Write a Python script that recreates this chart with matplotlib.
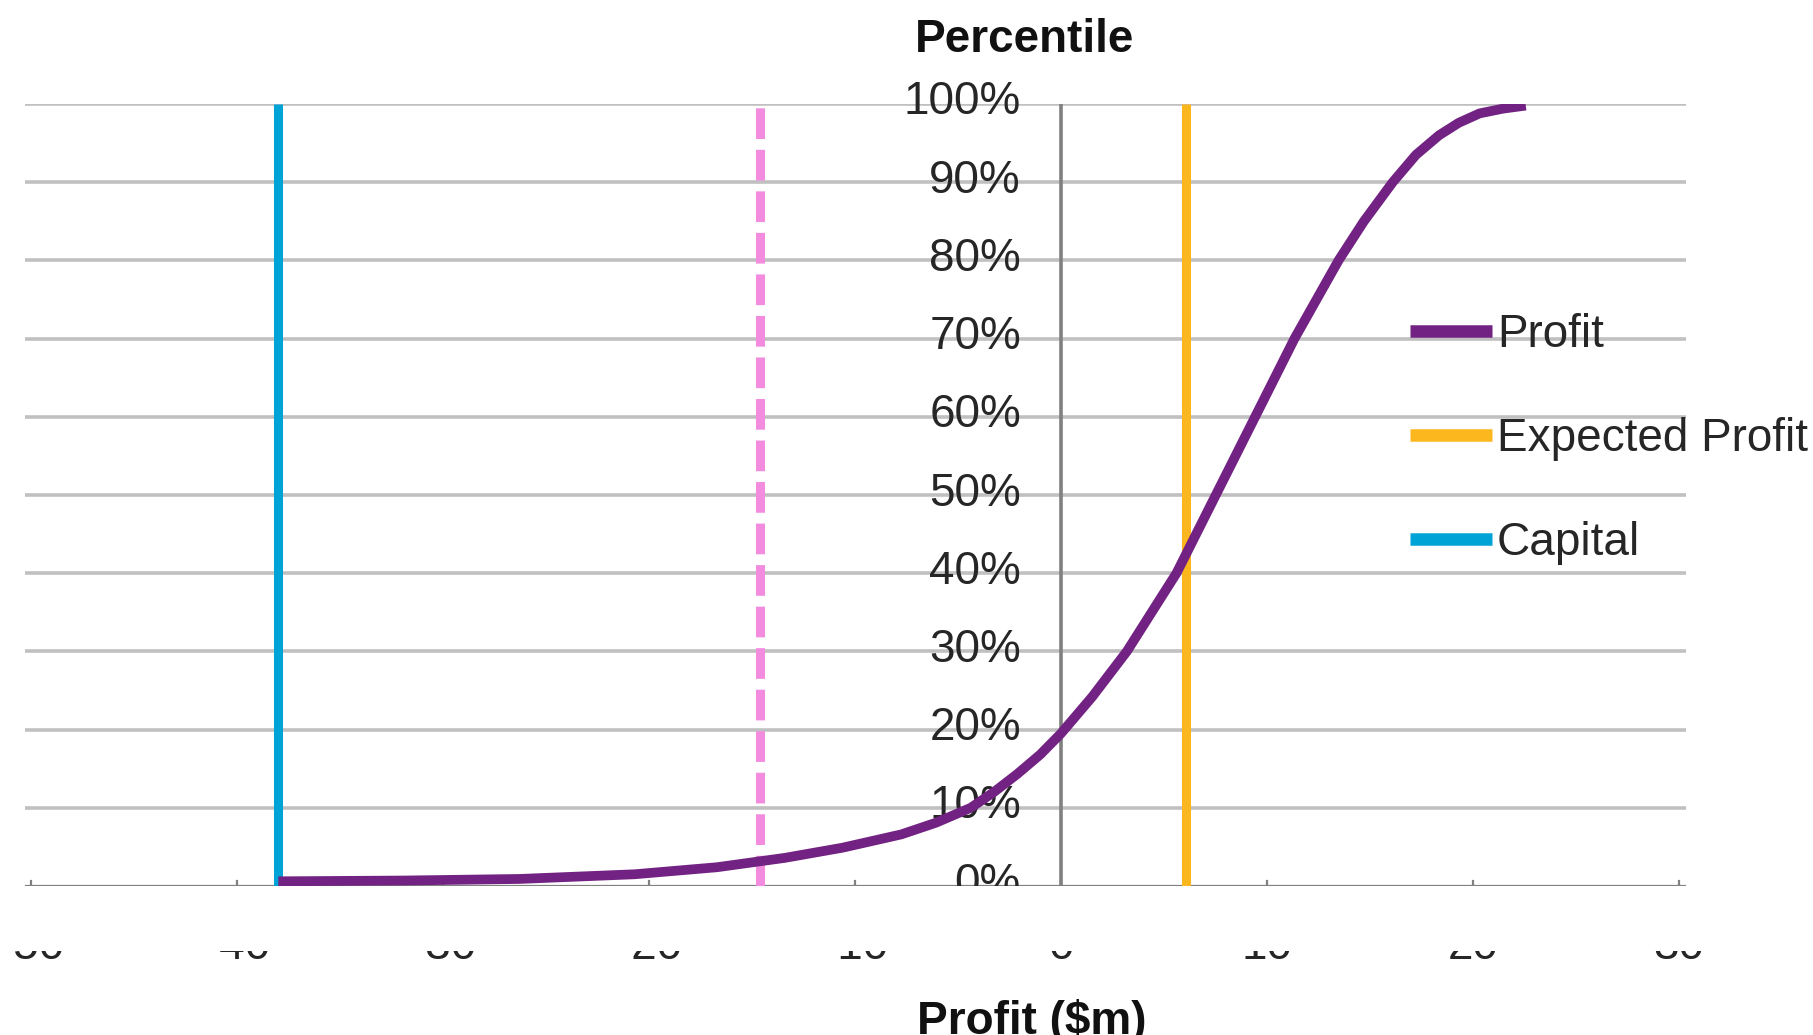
import matplotlib
matplotlib.use("Agg")
import matplotlib.pyplot as plt
from matplotlib.lines import Line2D
from matplotlib.patches import Rectangle
from matplotlib.transforms import Bbox, ScaledTranslation, blended_transform_factory

plt.rcParams["font.family"] = ["Liberation Sans", "DejaVu Sans"]

# cumulative profit distribution ($m vs percentile)
profit = [-38.0, -31.9, -26.3, -20.7, -16.7, -13.4, -10.6, -7.75, -6.06, -4.38,
          -3.26, -2.13, -1.01, 0.0, 1.52, 3.20, 5.61, 7.52, 9.43, 11.34,
          13.48, 14.71, 16.11, 17.24, 18.36, 19.32, 20.33, 21.45, 22.57]
percentile = [0.006, 0.007, 0.009, 0.015, 0.024, 0.036, 0.049, 0.066, 0.081, 0.100,
              0.120, 0.143, 0.168, 0.195, 0.242, 0.300, 0.400, 0.500, 0.600, 0.700,
              0.800, 0.850, 0.900, 0.935, 0.960, 0.976, 0.988, 0.994, 0.998]

expected_profit = 6.06
capital = -38.0
threshold = -14.6

x_ticks = [-50, -40, -30, -20, -10, 0, 10, 20, 30]
y_ticks = [0.0, 0.1, 0.2, 0.3, 0.4, 0.5, 0.6, 0.7, 0.8, 0.9, 1.0]
y_labels = ["0%", "10%", "20%", "30%", "40%", "50%", "60%", "70%", "80%", "90%", "100%"]

c_profit = "#722282"
c_expected = "#FDB71E"
c_capital = "#00A3D6"
c_threshold = "#F38BDF"
txt = "#262626"
fs = 33

W, H = 1813, 1035
fig = plt.figure(figsize=(W / 100, H / 100), dpi=100)
ax = fig.add_axes([25 / W, 1 - 886 / H, (1686 - 25) / W, (886 - 104) / H])
ax.set_xlim(-50.3, 30.35)
ax.set_ylim(0, 1)
for s in ax.spines.values():
    s.set_visible(False)

ax.set_yticks(y_ticks[1:])
ax.yaxis.grid(True, color="#C0C0C0", linewidth=2.6)
ax.set_axisbelow(True)
ax.set_xticks(x_ticks)
ax.tick_params(axis="both", length=0, labelleft=False, labelbottom=False)

# axis lines
ax.axhline(0, color="#808080", linewidth=1.6, zorder=2)
ax.plot([0, 0], [0, 1], color="#808080", linewidth=2.6, zorder=2)
for xt in x_ticks:
    ax.plot([xt, xt], [0, 0.006], color="#808080", linewidth=1.6, zorder=2)

# y tick labels sit left of the x=0 axis, cut off below the x axis
clip_above_axis = Bbox([[0, H - 886], [W, H]])
off = ScaledTranslation(-40 / 100, -10.5 / 100, fig.dpi_scale_trans)
for v, lab in zip(y_ticks, y_labels):
    t = ax.text(0, v, lab, transform=ax.transData + off, ha="right", va="baseline",
                fontsize=fs, color=txt, zorder=3)
    t.set_clip_path(None)
    t.set_clip_box(clip_above_axis)
    t.set_clip_on(True)

# x tick labels; a white band hides all but their lower edge
tr = blended_transform_factory(ax.transData, fig.transFigure)
for xt in x_ticks:
    ax.text(xt, 1 - 959 / H, str(xt), transform=tr, ha="center", va="baseline",
            fontsize=fs, color=txt)
fig.add_artist(Rectangle((0, 1 - 951 / H), 1, (951 - 890) / H, transform=fig.transFigure,
                         facecolor="white", edgecolor="none", zorder=5))

ax.plot([capital, capital], [0, 1], color=c_capital, linewidth=6.5,
        solid_capstyle="butt", zorder=4)
ax.plot([threshold, threshold], [0, 1], color=c_threshold, linewidth=6.5,
        dashes=(3.4, 1.2), dash_capstyle="butt", zorder=4)
ax.plot([expected_profit, expected_profit], [0, 1], color=c_expected, linewidth=6.5,
        solid_capstyle="butt", zorder=4)
ax.plot(profit, percentile, color=c_profit, linewidth=7, solid_joinstyle="round",
        solid_capstyle="butt", zorder=5)

# legend
legend = [("Profit", c_profit, 331), ("Expected Profit", c_expected, 435),
          ("Capital", c_capital, 539)]
for name, col, ypx in legend:
    fig.add_artist(Line2D([1410 / W, 1492 / W], [1 - ypx / H, 1 - ypx / H],
                          color=col, linewidth=9, solid_capstyle="butt"))
    fig.text(1497 / W, 1 - (ypx + 16) / H, name, fontsize=fs, color=txt,
             ha="left", va="baseline")

fig.text(1025 / W, 1 - 52 / H, "Percentile", fontsize=fs, fontweight="bold",
         color="#111111", ha="center", va="baseline")
fig.text(1032 / W, 1 / H, "Profit ($m)", fontsize=fs, fontweight="bold",
         color="#111111", ha="center", va="baseline")

fig.savefig("out.png", dpi=100, facecolor="white")
